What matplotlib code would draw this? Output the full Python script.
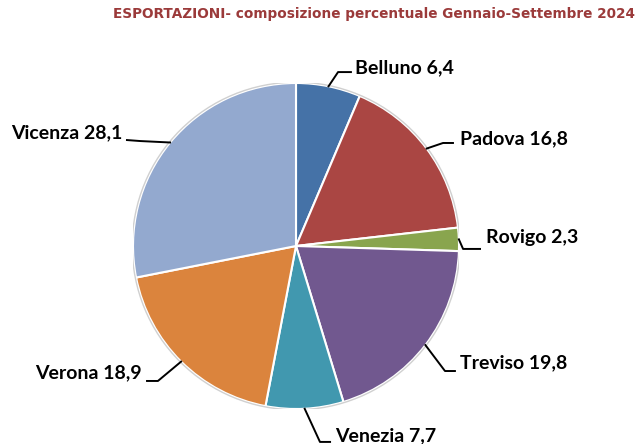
import numpy as np
import matplotlib
matplotlib.use("Agg")
import matplotlib.pyplot as plt

provinces = ["Belluno", "Padova", "Rovigo", "Treviso", "Venezia", "Verona", "Vicenza"]
shares = [6.4, 16.8, 2.3, 19.8, 7.7, 18.9, 28.1]
colors = ["#4572A7", "#AA4643", "#89A54E", "#71588F", "#4198AF", "#DB843D", "#93A9CF"]
title = "ESPORTAZIONI- composizione percentuale Gennaio-Settembre 2024"

# label layout (data units, pie radius = 1): elbow, line end, text anchor
elbows = [(0.258, 1.067), (0.902, 0.632), (1.025, -0.018), (0.914, -0.767),
          (0.147, -1.202), (-0.847, -0.828), (-0.957, 0.644)]
ends = [(0.337, 1.067), (0.963, 0.632), (1.129, -0.018), (0.975, -0.767),
        (0.209, -1.202), (-0.914, -0.828), (-1.037, 0.650)]
texts = [(0.362, 1.092), (1.006, 0.656), (1.166, 0.055), (1.006, -0.718),
         (0.239, -1.166), (-0.945, -0.779), (-1.067, 0.693)]

W, H = 640, 444
fig = plt.figure(figsize=(6.4, 4.44), dpi=100)
cx, cy, r = 296, 246, 163
ax = fig.add_axes([(cx - r) / W, (H - cy - r) / H, 2 * r / W, 2 * r / H])

wedges, _ = ax.pie(shares, colors=colors, startangle=90, counterclock=False,
                   radius=1, wedgeprops=dict(edgecolor="white", linewidth=1.5))
circle = plt.Circle((0, 0), 1.005, fill=False, edgecolor="#d0d0d0", linewidth=1.0)
ax.add_patch(circle)

for w, name, val, el, en, tx in zip(wedges, provinces, shares, elbows, ends, texts):
    ang = np.deg2rad((w.theta1 + w.theta2) / 2)
    p0 = (np.cos(ang), np.sin(ang))
    ax.plot([p0[0], el[0], en[0]], [p0[1], el[1], en[1]], color="black",
            linewidth=1.4, clip_on=False)
    ha = "left" if tx[0] > 0 else "right"
    ax.text(tx[0], tx[1], f"{name} {val:.1f}".replace(".", ","), ha=ha, va="center",
            fontsize=14, fontweight="bold", family="Lato", clip_on=False)

ax.set_xlim(-1, 1)
ax.set_ylim(-1, 1)
ax.axis("off")

fig.text(635 / W, 1 - 14 / H, title, ha="right", va="center", fontsize=9.8,
         fontweight="bold", color="#9B3A3A", family="DejaVu Sans")

plt.savefig("out.png", dpi=100)
